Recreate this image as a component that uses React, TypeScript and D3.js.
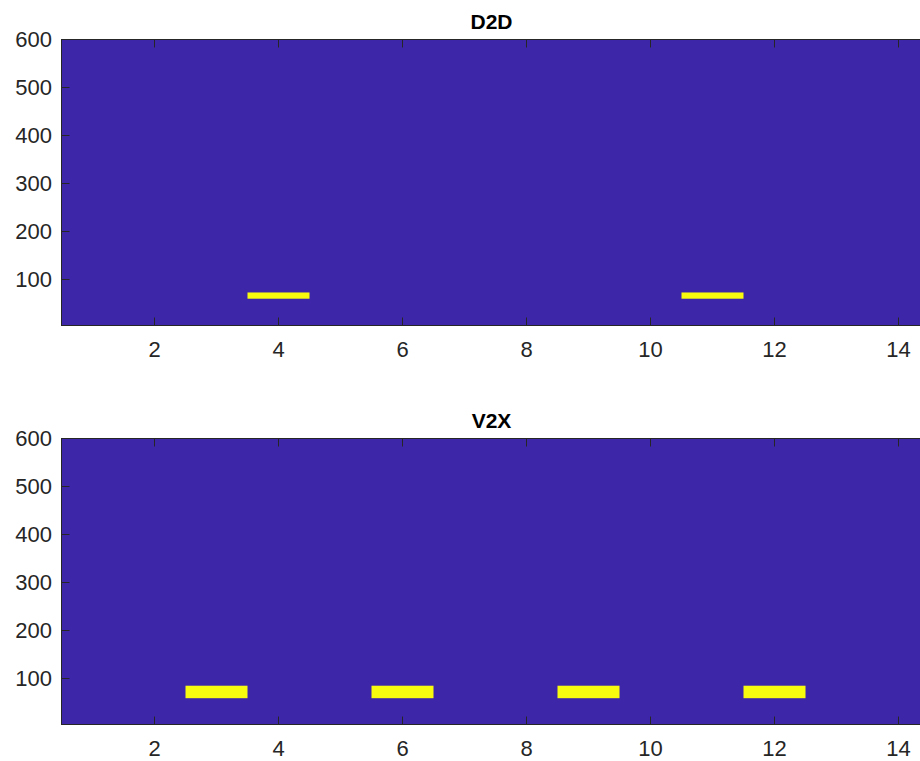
import React from "react";
import * as d3 from "d3";

const titles = ["D2D", "V2X"];
const xTicks = [2, 4, 6, 8, 10, 12, 14];
const yTicks = [100, 200, 300, 400, 500, 600];
const xDomain = [0.5, 14.5];
const yDomain = [4.2, 600];
const d2dCols = [4, 11];
const d2dRange = [60, 73];
const v2xCols = [3, 6, 9, 12];
const v2xRange = [59, 85];

const panelData = [
  { cols: d2dCols, range: d2dRange },
  { cols: v2xCols, range: v2xRange },
];

const BG = "#3E26A8";
const YELLOW = "#F9FB0E";
const AX = "#262626";

function Panel({ idx, top }: { idx: number; top: number }) {
  const h = 286;
  const x = d3.scaleLinear().domain(xDomain).range([61.5, 929.5]);
  const y = d3.scaleLinear().domain(yDomain).range([top + h, top]);
  const d = panelData[idx];
  const tl = 8;
  return (
    <g>
      <rect x={x(xDomain[0])} y={top} width={x(xDomain[1]) - x(xDomain[0])} height={h} fill={BG} />
      {d.cols.map((c) => (
        <rect
          key={c}
          x={x(c - 0.5)}
          y={y(d.range[1])}
          width={x(c + 0.5) - x(c - 0.5)}
          height={y(d.range[0]) - y(d.range[1])}
          fill={YELLOW}
        />
      ))}
      <rect
        x={x(xDomain[0])}
        y={top}
        width={x(xDomain[1]) - x(xDomain[0])}
        height={h}
        fill="none"
        stroke={AX}
        strokeWidth={1}
      />
      {xTicks.map((t) => (
        <g key={"x" + t}>
          <line x1={x(t)} x2={x(t)} y1={top + h} y2={top + h - tl} stroke={AX} />
          <line x1={x(t)} x2={x(t)} y1={top} y2={top + tl} stroke={AX} />
          <text
            x={x(t)}
            y={top + h + 31}
            textAnchor="middle"
            fontSize={22}
            fill={AX}
            fontFamily="'Liberation Sans', Arial, sans-serif"
          >
            {t}
          </text>
        </g>
      ))}
      {yTicks.map((t) => (
        <g key={"y" + t}>
          <line x1={x(xDomain[0])} x2={x(xDomain[0]) + tl} y1={y(t)} y2={y(t)} stroke={AX} />
          <text
            x={52}
            y={y(t)}
            dy="0.36em"
            textAnchor="end"
            fontSize={22}
            fill={AX}
            fontFamily="'Liberation Sans', Arial, sans-serif"
          >
            {t}
          </text>
        </g>
      ))}
      <text
        x={(x(xDomain[0]) + x(xDomain[1])) / 2 - 4}
        y={top - 11}
        textAnchor="middle"
        fontSize={21}
        fontWeight="bold"
        fill="#000"
        fontFamily="'Liberation Sans', Arial, sans-serif"
      >
        {titles[idx]}
      </text>
    </g>
  );
}

export default function App() {
  return (
    <svg
      width={920}
      height={761}
      style={{ position: "fixed", left: 0, top: 0, background: "#fff" }}
    >
      <Panel idx={0} top={39.5} />
      <Panel idx={1} top={438.5} />
    </svg>
  );
}
